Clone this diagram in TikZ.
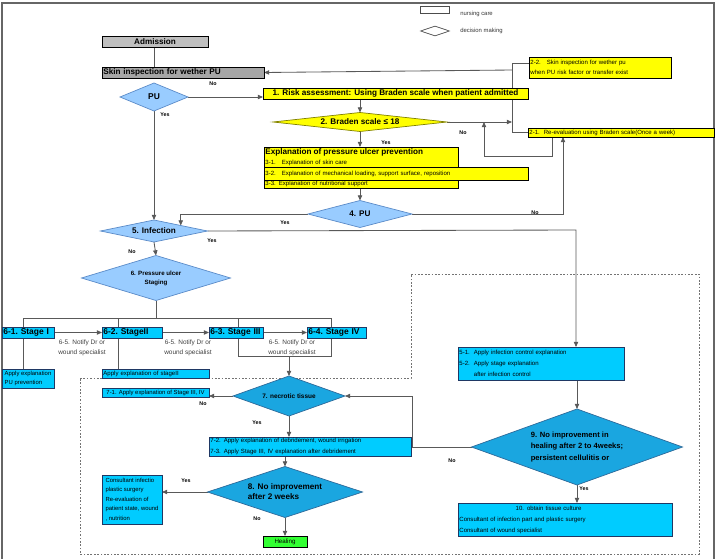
\documentclass[tikz,border=0pt]{standalone}
\usepackage{fontspec}
\setmainfont{Liberation Sans}
\usepackage{tikz}
\usetikzlibrary{arrows.meta,positioning,calc,backgrounds,shapes.geometric}
\definecolor{cyanbox}{HTML}{00CCFF}
\definecolor{boxline}{HTML}{1F3864}
\definecolor{lightdia}{HTML}{99CCFF}
\definecolor{lightedge}{HTML}{5B8BC8}
\definecolor{darkdia}{HTML}{1AA6E0}
\definecolor{darkedge}{HTML}{2E6A9A}
\definecolor{healgreen}{HTML}{33FF33}
\definecolor{bradyellow}{HTML}{FFFF00}
\tikzset{
  >={Triangle[length=1.3mm,width=1.1mm]},
  % rutor
  bx/.style={draw=black,line width=0.6pt,inner xsep=1pt,inner ysep=0.5pt,
             outer sep=0pt,align=left},
  gbx/.style={bx,fill=black!25},
  ybx/.style={bx,fill=bradyellow},
  cbx/.style={bx,fill=cyanbox,draw=boxline},
  hbx/.style={bx,fill=healgreen},
  % beslut
  dia/.style={diamond,inner sep=0pt,outer sep=0pt,line width=0.5pt},
  ldia/.style={dia,fill=lightdia,draw=lightedge},
  ddia/.style={dia,fill=darkdia,draw=darkedge},
  ydia/.style={dia,fill=bradyellow,draw=black!50!bradyellow},
  wd/.style={minimum width=#1*0.025cm},
  ht/.style={minimum height=#1*0.025cm},
  tw/.style={text width=#1*0.025cm-2pt},
  big/.style={font=\fontsize{5.8}{7}\selectfont\bfseries},
  stg/.style={font=\fontsize{6}{7}\selectfont\bfseries},
  sm/.style={font=\fontsize{4.3}{7.4}\selectfont},
  yn/.style={font=\fontsize{3.8}{4}\selectfont\bfseries,inner sep=0pt},
  nt/.style={font=\fontsize{4.6}{7}\selectfont,text=black!75,align=center,inner sep=0pt},
  lg/.style={font=\fontsize{4.2}{5}\selectfont,text=black!80,anchor=west,inner sep=0pt},
  % linjer
  ln/.style={draw=black!65,line width=0.6pt},
  ar/.style={ln,->},
  zone/.style={draw=black!55,line width=0.6pt,dash pattern=on 1.2pt off 1.2pt},
}
\begin{document}
\begin{tikzpicture}[x=0.025cm,y=-0.025cm]
  \useasboundingbox (0,0) rectangle (718,559);
  % legend
  \node[draw=black!70,line width=0.5pt,wd=29,ht=7,inner sep=0pt] (lgbox) at (435,10) {};
  \node[lg] (lgboxt) at (460,14) {nursing care};
  \node[diamond,draw=black!70,line width=0.5pt,wd=29,ht=10,inner sep=0pt,aspect=2.9] (lgdia) at (435,31) {};
  \node[lg] (lgdiat) at (460,31) {decision making};
  % top part
  \node[gbx,big,wd=106,ht=11,anchor=north west,align=center] (adm) at (102,36) {Admission};
  \node[gbx,fill=black!35,big,tw=162,ht=11,anchor=north west] (skin) at (102,67) {Skin inspection for wether PU};
  \node[ldia,wd=68,ht=28,aspect=2.4,font=\fontsize{6}{7}\selectfont\bfseries] (pu) at (154,97) {PU};
  \node[ybx,big,wd=265,ht=11,anchor=north west,align=center] (risk) at (263,88) {1. Risk assessment: Using Braden scale when patient admitted};
  \node[ydia,wd=174,ht=19,aspect=9.2,big] (brd) at (360,122) {2. Braden scale ≤ 18};
  \node[ybx,sm,tw=142,ht=21,anchor=north west] (c22) at (529,57) {2-2.\ \ \ Skin inspection for wether pu\\when PU risk factor or transfer exist};
  \node[ybx,sm,tw=186,ht=9,anchor=north west] (c21) at (528,128) {2-1.\ \ Re-evaluation using Braden scale(Once a week)};
  \node[ybx,sm,tw=194,ht=41,anchor=north west] (expl) at (264,147) {{\fontsize{5.8}{7}\selectfont\bfseries Explanation of pressure ulcer prevention}\\3-1.\ \ \ Explanation of skin care\\\mbox{}\\3-3. Explanation of nutritional support};
  \node[ybx,sm,tw=264,ht=13,anchor=north west] (e32) at (264,167) {3-2.\ \ \ Explanation of mechanical loading, support surface, reposition};
  \node[ldia,wd=104,ht=27,aspect=3.85,big] (pu4) at (360,214) {4. PU};
  \node[ldia,wd=107,ht=22,aspect=4.9,big] (inf) at (154,231) {5. Infection};
  \node[ldia,wd=149,ht=45,aspect=3.3,font=\fontsize{4.4}{6.5}\selectfont\bfseries,align=center] (stg) at (156,278) {6. Pressure ulcer\\Staging};
  % stages
  \node[cbx,stg,tw=52,ht=11,anchor=north west] (s1) at (2,327) {6-1.~Stage~I};
  \node[cbx,stg,tw=60,ht=11,anchor=north west] (s2) at (102,327) {6-2.~StageII};
  \node[cbx,stg,tw=54,ht=11,anchor=north west] (s3) at (209,327) {6-3.~Stage~III};
  \node[cbx,stg,tw=59,ht=11,anchor=north west] (s4) at (307,327) {6-4.~Stage~IV};
  \node[nt] (nt1) at (82,348) {6-5. Notify Dr or\\wound specialist};
  \node[nt] (nt2) at (188,348) {6-5. Notify Dr or\\wound specialist};
  \node[nt] (nt3) at (292,348) {6-5. Notify Dr or\\wound specialist};
  \node[cbx,font=\fontsize{4.2}{7}\selectfont,wd=52,ht=19,anchor=north west] (a1) at (2,369) {Apply explanation\\PU prevention};
  \node[cbx,sm,tw=107,ht=9,anchor=north west] (a2) at (102,369) {Apply explanation of stageII};
  \node[cbx,font=\fontsize{4.2}{5}\selectfont,wd=107,ht=9,anchor=north west] (t71) at (102,388) {7-1. Apply explanation of Stage III, IV};
  % lower part
  \node[ddia,wd=112,ht=40,aspect=2.8,font=\fontsize{4.6}{6}\selectfont\bfseries] (n7) at (289,396) {7. necrotic tissue};
  \node[cbx,sm,tw=202,ht=19,anchor=north west] (t72) at (209,437) {7-2. Apply explanation of debridement, wound irrigation\\7-3. Apply Stage III, IV explanation after debridement};
  \node[ddia,wd=155,ht=51,aspect=3,big,align=left] (n8) at (285,492) {8. No improvement\\after 2 weeks};
  \node[cbx,font=\fontsize{4.2}{6.7}\selectfont,wd=60,ht=49,anchor=north west] (cons) at (102,475) {Consultant infectio\\plastic surgery\\Re-evaluation of\\patient state, wound\\, nutrition};
  \node[hbx,font=\fontsize{4.4}{5}\selectfont,wd=44,ht=11,anchor=north west,align=center] (heal) at (263,536) {Healing};
  \node[cbx,tw=166,ht=33,anchor=north west,font=\fontsize{4.3}{7.8}\selectfont] (c51) at (458,347) {5-1.\ \ Apply infection control explanation\\5-2.\ \ Apply stage explanation\\\hspace*{2.4em}after infection control};
  \node[ddia,wd=211,ht=76,aspect=2.8,align=left,font=\fontsize{5.4}{8.5}\selectfont\bfseries] (n9) at (577,447) {9. No improvement in\\healing after 2 to 4weeks;\\persistent cellulitis or};
  \node[cbx,tw=214,ht=33,anchor=north west,font=\fontsize{4.3}{7.8}\selectfont] (c10) at (458,503) {\hspace*{40pt}10. obtain tissue culture\\Consultant of infection part and plastic surgery\\Consultant of wound specialist};
  % yes/no
  \node[yn] (no1) at (213,84) {No};
  \node[yn] (yes1) at (165,115) {Yes};
  \node[yn] (no2) at (463,133) {No};
  \node[yn] (yes2) at (386,143) {Yes};
  \node[yn] (no4) at (535,213) {No};
  \node[yn] (yes4) at (285,223) {Yes};
  \node[yn] (yes5) at (212,241) {Yes};
  \node[yn] (no5) at (132,252) {No};
  \node[yn] (no7) at (203,404) {No};
  \node[yn] (yes7) at (257,423) {Yes};
  \node[yn] (no9) at (452,461) {No};
  \node[yn] (yes9) at (584,489) {Yes};
  \node[yn] (yes8) at (186,481) {Yes};
  \node[yn] (no8) at (257,519) {No};
  \coordinate (jt) at (512,63);
  \coordinate (jb) at (512,132.5);
  \coordinate (js) at (512,70);
  \coordinate (rr) at (552,156);
  \coordinate (rl) at (484,156);
  \coordinate (nr) at (563,214);
  \coordinate (ir) at (576,230);
  \coordinate (bus1) at (23,318);
  \coordinate (bus2) at (118,318);
  \coordinate (bus3) at (238,318);
  \coordinate (bus4) at (331,318);
  \coordinate (loop3) at (238,356);
  \coordinate (loop4) at (331,356);
  \coordinate (rb) at (412,446);
  \begin{scope}[on background layer]
  \draw[black!60,line width=0.8pt] (2,559) -- (2,3) -- (714,3) -- (714,559);
  \draw[zone] (80,378) -- (411,378) -- (411,274) -- (699,274) -- (699,554) -- (80,554) -- cycle;
  \draw[ln] (adm.south -| pu) -- (skin.north -| pu);
  \draw[ln] (c22.west |- jt) -- (jt) -- (jb) -- (c21.west |- jb);
  \draw[ar] (js) -- (skin.east);
  \draw[ar] (pu.east) -- (pu.east -| risk.west);
  \draw[ar] (risk.south -| brd) -- (brd.north);
  \draw[ar] (brd.east) -- (brd.east -| jt);
  \draw[ar] (c21.south -| rr) -- (rr) -- (rl) -- (rl |- brd.east);
  \draw[ar] (brd.south) -- (brd.south |- expl.north);
  \draw[ar] (expl.south -| pu4) -- (pu4.north);
  \draw[ar] (pu4.east) -- (nr) -- (nr |- c21.south);
  \draw[ar] (pu4.west) -| (inf.north east);
  \draw[ar] (pu.south) -- (inf.north);
  \draw[ar] (inf.east) -- (ir) -- (ir |- c51.north);
  \draw[ar] (inf.south) -- (stg.north);
  \draw[ln] (stg.south) -- (stg.south |- bus1);
  \draw[ln] (bus1) -- (bus4);
  \draw[ln] (bus1) -- (a1.north -| bus1);
  \draw[ln] (bus2) -- (a2.north -| bus2);
  \draw[ln] (bus3) -- (loop3) -- (loop4) -- (bus4);
  \draw[ar] (s1.east) -- (s2.west);
  \draw[ar] (s2.east) -- (s3.west);
  \draw[ar] (s3.east) -- (s4.west);
  \draw[ar] (loop3 -| n7) -- (n7.north);
  \draw[ar] (n7.west) -- (n7.west -| t71.east);
  \draw[ar] (n7.south) -- (n7.south |- t72.north);
  \draw[ar] (t72.south -| n8) -- (n8.north);
  \draw[ar] (n8.west) -- (n8.west -| cons.east);
  \draw[ar] (n8.south) -- (heal.north);
  \draw[ar] (c51.south -| n9) -- (n9.north);
  \draw[ar] (n9.south) -- (n9.south |- c10.north);
  \draw[ar] (n9.west) -- (n9.west -| rb) |- (n7.east);
  \end{scope}
\end{tikzpicture}
\end{document}
